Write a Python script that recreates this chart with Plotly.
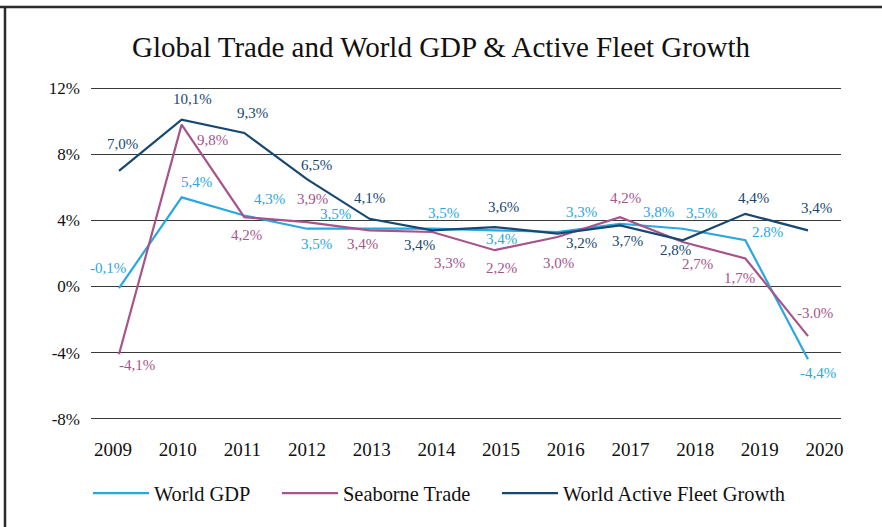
import plotly.graph_objects as go

years = [2009, 2010, 2011, 2012, 2013, 2014, 2015, 2016, 2017, 2018, 2019, 2020]
world_gdp = [-0.1, 5.4, 4.3, 3.5, 3.5, 3.5, 3.4, 3.3, 3.8, 3.5, 2.8, -4.4]
seaborne_trade = [-4.1, 9.8, 4.2, 3.9, 3.4, 3.3, 2.2, 3.0, 4.2, 2.7, 1.7, -3.0]
fleet_growth = [7.0, 10.1, 9.3, 6.5, 4.1, 3.4, 3.6, 3.2, 3.7, 2.8, 4.4, 3.4]

gdp_text = ["-0,1%", "5,4%", "4,3%", "3,5%", "3,5%", "3,5%", "3,4%", "3,3%", "3,8%", "3,5%", "2.8%", "-4,4%"]
trade_text = ["-4,1%", "9,8%", "4,2%", "3,9%", "3,4%", "3,3%", "2,2%", "3,0%", "4,2%", "2,7%", "1,7%", "-3.0%"]
fleet_text = ["7,0%", "10,1%", "9,3%", "6,5%", "4,1%", "3,4%", "3,6%", "3,2%", "3,7%", "2,8%", "4,4%", "3,4%"]

y_ticks = [-8, -4, 0, 4, 8, 12]
y_tick_text = ["-8%", "-4%", "0%", "4%", "8%", "12%"]

# label offsets in screen pixels (dx right, dy down)
gdp_off = [(-11, -20), (15, -15), (25, -17), (10, 15), (-34, -15), (11, -16),
           (7, 9), (24, -20), (38, -12), (19, -16), (22, -8), (10, 14)]
trade_off = [(18, 11), (31, 15), (2, 18), (6, -23), (-7, 14), (17, 31),
             (7, 18), (1, 26), (5, -19), (15, 22), (-6, 20), (7, -23)]
fleet_off = [(3, -27), (11, -21), (8, -20), (10, -14), (0, -21), (-13, 15),
             (9, -20), (24, 9), (7, 16), (-7, 10), (8, -16), (9, -22)]

C_GDP = "#2AA7DF"
C_TRADE = "#A6548A"
C_FLEET = "#174872"
FONT = "Liberation Serif"

fig = go.Figure()
for name, vals, col, leg in [("World GDP", world_gdp, C_GDP, "legend"),
                             ("Seaborne Trade", seaborne_trade, C_TRADE, "legend2"),
                             ("World Active Fleet Growth", fleet_growth, C_FLEET, "legend3")]:
    fig.add_trace(go.Scatter(x=years, y=vals, mode="lines", name=name, legend=leg,
                             line=dict(color=col, width=2.2), hoverinfo="skip"))

annotations = []
for vals, texts, offs, col in [(world_gdp, gdp_text, gdp_off, C_GDP),
                               (seaborne_trade, trade_text, trade_off, C_TRADE),
                               (fleet_growth, fleet_text, fleet_off, C_FLEET)]:
    for yr, v, t, (dx, dy) in zip(years, vals, texts, offs):
        annotations.append(dict(x=yr, y=v, xref="x", yref="y", text=t, showarrow=False,
                                xshift=dx, yshift=-dy,
                                font=dict(family=FONT, size=15, color=col)))

def leg(xpx):
    return dict(orientation="h", x=(xpx - 91) / 750, xanchor="left", y=-0.212, yanchor="middle",
                font=dict(family=FONT, size=20.4, color="#111111"),
                itemwidth=56, bgcolor="rgba(0,0,0,0)")

fig.update_layout(
    width=882, height=527,
    paper_bgcolor="white", plot_bgcolor="white",
    margin=dict(l=91, r=41, t=85, b=105),
    font=dict(family=FONT, color="#111111"),
    title=dict(text="Global Trade and World GDP & Active Fleet Growth",
               x=0.5, xref="container", xanchor="center",
               y=1 - 47 / 527, yref="container", yanchor="middle",
               font=dict(family=FONT, size=29, color="#111111")),
    showlegend=True,
    legend=leg(88), legend2=leg(277), legend3=leg(497),
    xaxis=dict(range=[2008.553, 2020.527], showticklabels=False, showgrid=False,
               zeroline=False, showline=False, ticks=""),
    xaxis2=dict(range=[2008.660, 2020.255], overlaying="x", anchor="y", side="bottom",
                tickmode="array", tickvals=years, ticktext=[str(y) for y in years],
                showgrid=False, zeroline=False, showline=False, ticks="",
                ticklabelstandoff=14,
                tickfont=dict(family=FONT, size=19, color="#111111")),
    yaxis=dict(range=[-8.2, 12.2], tickmode="array", tickvals=y_ticks, ticktext=y_tick_text,
               showgrid=True, gridcolor="#3a3a3a", gridwidth=1.3, zeroline=False,
               showline=False, ticks="", ticklabelstandoff=10,
               tickfont=dict(family=FONT, size=17, color="#111111")),
    annotations=annotations,
    shapes=[
        dict(type="line", xref="paper", yref="paper", x0=(0 - 91) / 750, x1=(882 - 91) / 750,
             y0=(421.6 - 7) / 336.6, y1=(421.6 - 7) / 336.6, line=dict(color="#2b2b2b", width=2.5)),
        dict(type="line", xref="paper", yref="paper", x0=(5 - 91) / 750, x1=(5 - 91) / 750,
             y0=(421.6 - 6) / 336.6, y1=(421.6 - 530) / 336.6, line=dict(color="#2b2b2b", width=2.5)),
    ],
)
# invisible trace to activate the tick-label axis
fig.add_trace(go.Scatter(x=[years[0]], y=[None], xaxis="x2", yaxis="y", showlegend=False,
                         hoverinfo="skip", mode="lines"))

fig.write_html("out.html", config={"displayModeBar": False},
               post_script="document.body.style.margin='0';")
